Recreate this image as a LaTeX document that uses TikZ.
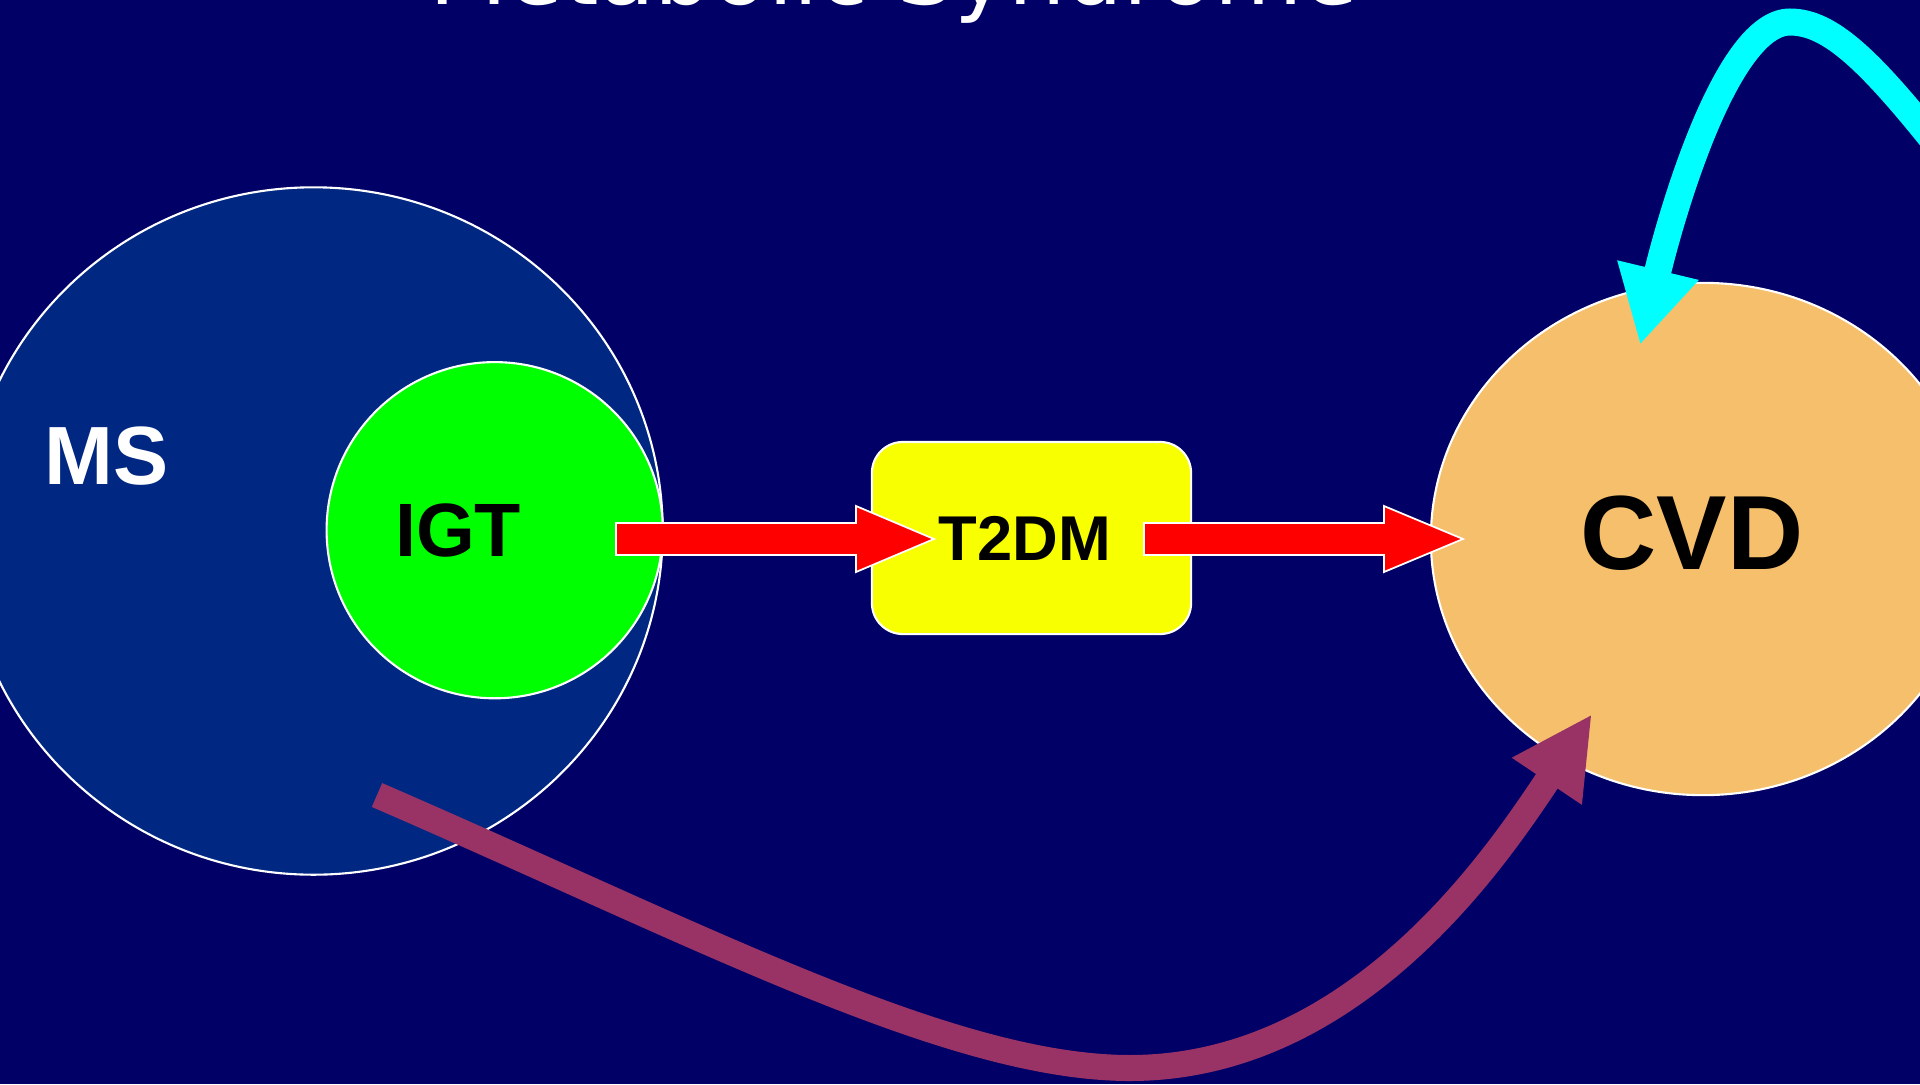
\documentclass[tikz,border=0pt]{standalone}
\usepackage{fontspec}
\setmainfont{Liberation Sans}
\newfontfamily\titlefont{DejaVu Sans}
\usetikzlibrary{arrows.meta,calc,shapes.geometric}
\definecolor{bgnavy}{RGB}{0,0,102}
\definecolor{msblue}{RGB}{0,40,130}
\definecolor{igtgreen}{RGB}{0,255,0}
\definecolor{dmyellow}{RGB}{248,255,0}
\definecolor{cvdorange}{RGB}{245,191,108}
\definecolor{arrowred}{RGB}{255,0,0}
\definecolor{arrowpurple}{RGB}{153,51,102}
\definecolor{arrowcyan}{RGB}{0,255,255}
\tikzset{
  blob/.style={ellipse, draw=white, line width=0.6pt, inner sep=0pt},
  lbl/.style={inner sep=0pt, font=\bfseries},
  redarrow/.style={fill=arrowred, draw=white, line width=0.5pt, line join=miter},
}
\begin{document}
\begin{tikzpicture}[x=0.01cm,y=-0.01cm]
\useasboundingbox (0,0) rectangle (1920,1084);
\clip (0,0) rectangle (1920,1084);
\fill[bgnavy] (0,0) rectangle (1920,1084);

% title (cut off at the top)
\node[anchor=base west, inner sep=0pt, text=white] (title) at (429,4)
  {\resizebox{9.28cm}{!}{\titlefont Metabolic Syndrome}};

% shapes
\node[blob, fill=msblue, minimum width=6.98cm, minimum height=6.87cm] (ms) at (313.5,531) {};
\node[blob, fill=igtgreen, minimum width=3.36cm, minimum height=3.36cm] (igt) at (494.7,530.2) {};
\node[rectangle, rounded corners=0.31cm, draw=white, line width=0.6pt, fill=dmyellow,
      minimum width=3.19cm, minimum height=1.92cm, inner sep=0pt] (dm) at (1031.5,538) {};
\node[blob, fill=cvdorange, minimum width=5.44cm, minimum height=5.12cm] (cvd) at (1703,539) {};

% red block arrows
\coordinate (a1s) at (616,539);
\coordinate (a1e) at (934,539);
\coordinate (a2s) at (1144,539);
\coordinate (a2e) at (1463,539);
\draw[redarrow] ($(a1s)+(0,-16)$) -- ($(a1e)+(-78,-16)$) -- ($(a1e)+(-78,-33)$) -- (a1e)
  -- ($(a1e)+(-78,33)$) -- ($(a1e)+(-78,16)$) -- ($(a1s)+(0,16)$) -- cycle;
\draw[redarrow] ($(a2s)+(0,-16)$) -- ($(a2e)+(-79,-16)$) -- ($(a2e)+(-79,-33)$) -- (a2e)
  -- ($(a2e)+(-79,33)$) -- ($(a2e)+(-79,16)$) -- ($(a2s)+(0,16)$) -- cycle;

% purple curved arrow MS -> CVD
\coordinate (ps) at (377,795);
\coordinate (pm) at (1130,1068);
\coordinate (pe) at (1592,714);
\draw[arrowpurple, line width=0.26cm, line cap=butt,
      -{Triangle[length=0.81cm,width=0.78cm]}]
  (ps) .. controls (700,935) and (950,1068) .. (pm)
       .. controls (1360,1068) and (1502,848) .. (pe);

% cyan curved arrow into CVD
\coordinate (cs) at (1945,155);
\coordinate (cm) at (1790,22);
\coordinate (ce) at (1640,345);
\draw[arrowcyan, line width=0.27cm, line cap=butt,
      -{Triangle[length=0.77cm,width=0.78cm]}]
  (cs) .. controls (1870,60) and (1830,22) .. (cm)
       .. controls (1727,22) and (1672,212) .. (ce);

% labels
\node[lbl, text=white, font=\bfseries\fontsize{23.5pt}{28pt}\selectfont] (mslabel) at (106.5,456) {MS};
\node[lbl, text=black, font=\bfseries\fontsize{21.5pt}{26pt}\selectfont] (igtlabel) at (458,530) {IGT};
\node[lbl, text=black, font=\bfseries\fontsize{18pt}{22pt}\selectfont] (dmlabel) at (1025,538) {T2DM};
\node[lbl, text=black, font=\bfseries\fontsize{30pt}{36pt}\selectfont] (cvdlabel) at (1692,533) {CVD};
\end{tikzpicture}
\end{document}
